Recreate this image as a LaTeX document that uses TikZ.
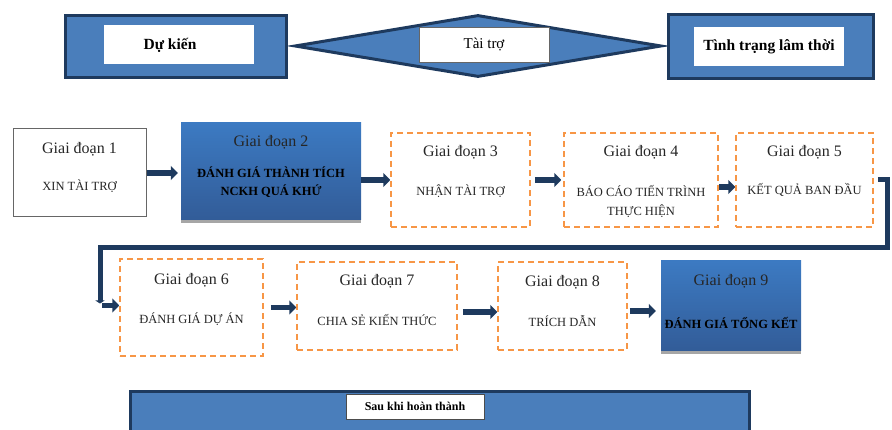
\documentclass[tikz,border=0pt]{standalone}
\usepackage{fontspec}
\setmainfont{Liberation Serif}
\usetikzlibrary{arrows.meta,shapes.geometric,shadows}
\definecolor{boxblue}{RGB}{74,126,187}
\definecolor{navy}{RGB}{30,58,94}
\definecolor{dashorange}{RGB}{247,150,70}
\definecolor{gradtop}{RGB}{60,122,194}
\definecolor{gradmid}{RGB}{47,109,179}
\definecolor{gradbot}{RGB}{50,92,152}

\begin{document}
\begin{tikzpicture}[x=1pt,y=-1pt,
  outerbox/.style={draw=navy, line width=3pt, fill=boxblue, inner sep=0pt},
  innerbox/.style={fill=white, inner sep=0pt, font=\fontsize{15.5}{18}\selectfont\bfseries},
  plainbox/.style={draw=black!60, line width=1pt, fill=white},
  dashbox/.style={draw=dashorange, line width=1.5pt, dash pattern=on 6pt off 4pt},
  gradbox/.style={top color=gradtop, middle color=gradmid, bottom color=gradbot,
    drop shadow={shadow xshift=0pt, shadow yshift=-3pt, fill=black!35, opacity=1}},
  title/.style={font=\fontsize{16}{19}\selectfont, text=black!85, inner sep=0pt},
  sub/.style={font=\fontsize{12.5}{19}\selectfont, text=black!85, align=center, inner sep=0pt},
  subbold/.style={sub, font=\fontsize{12.5}{18}\selectfont\bfseries, text=black},
  flow/.style={draw=navy, line width=5.5pt, -{Triangle[length=7pt,width=14pt]}},
  elbow/.style={draw=navy, line width=5pt, line join=miter, -{Triangle[length=3pt,width=9pt]}}]
  \useasboundingbox (0,0) rectangle (892,430);
  \clip (0,0) rectangle (892,430);

  % top row
  \node[outerbox, minimum width=221, minimum height=62] (plan) at (176,46.5) {};
  \node[innerbox, minimum width=150, minimum height=39] (planbox) at (179,44.5) {};
  \node[innerbox] (plantext) at (170,45) {Dự kiến};
  \node[diamond, draw=navy, line width=3pt, fill=boxblue, inner sep=0pt,
    minimum width=367, minimum height=62] (fund) at (478,46) {};
  \node[innerbox, draw=black!60, line width=0.8pt, font=\fontsize{15}{17}\selectfont,
    minimum width=130, minimum height=35] (fundtext) at (484,44.5) {Tài trợ};
  \node[outerbox, minimum width=205, minimum height=64] (interim) at (771,46.5) {};
  \node[innerbox, minimum width=150, minimum height=39] (interimtext) at (769,46.5) {Tình trạng lâm thời};

  % stages 1-5
  \node[plainbox, minimum width=133, minimum height=88] (g1) at (79.5,173) {};
  \node[title] (t1) at ([yshift=-21pt]g1.north) {Giai đoạn 1};
  \node[sub] (s1) at ([yshift=-58pt]g1.north) {XIN TÀI TRỢ};

  \node[gradbox, minimum width=180, minimum height=97] (g2) at (271,171.5) {};
  \node[title] (t2) at ([yshift=-19pt]g2.north) {Giai đoạn 2};
  \node[subbold] (s2) at ([yshift=-59pt]g2.north) {ĐÁNH GIÁ THÀNH TÍCH\\NCKH QUÁ KHỨ};

  \node[dashbox, minimum width=139, minimum height=94] (g3) at (460.5,180) {};
  \node[title] (t3) at ([yshift=-20pt]g3.north) {Giai đoạn 3};
  \node[sub] (s3) at ([yshift=-59pt]g3.north) {NHẬN TÀI TRỢ};

  \node[dashbox, minimum width=154, minimum height=94] (g4) at (641,180) {};
  \node[title] (t4) at ([yshift=-20pt]g4.north) {Giai đoạn 4};
  \node[sub] (s4) at ([yshift=-69pt]g4.north) {BÁO CÁO TIẾN TRÌNH\\THỰC HIỆN};

  \node[dashbox, minimum width=137, minimum height=94] (g5) at (804.5,180) {};
  \node[title] (t5) at ([yshift=-20pt]g5.north) {Giai đoạn 5};
  \node[sub] (s5) at ([yshift=-58pt]g5.north) {KẾT QUẢ BAN ĐẦU};

  % stages 6-9
  \node[dashbox, minimum width=143, minimum height=97] (g6) at (191.5,307.5) {};
  \node[title] (t6) at ([yshift=-22pt]g6.north) {Giai đoạn 6};
  \node[sub] (s6) at ([yshift=-61pt]g6.north) {ĐÁNH GIÁ DỰ ÁN};

  \node[dashbox, minimum width=160, minimum height=88] (g7) at (377,306) {};
  \node[title] (t7) at ([yshift=-20pt]g7.north) {Giai đoạn 7};
  \node[sub] (s7) at ([yshift=-59pt]g7.north) {CHIA SẺ KIẾN THỨC};

  \node[dashbox, minimum width=129, minimum height=88] (g8) at (562.5,306) {};
  \node[title] (t8) at ([yshift=-21pt]g8.north) {Giai đoạn 8};
  \node[sub] (s8) at ([yshift=-60pt]g8.north) {TRÍCH DẪN};

  \node[gradbox, minimum width=140, minimum height=90] (g9) at (731,306) {};
  \node[title] (t9) at ([yshift=-20pt]g9.north) {Giai đoạn 9};
  \node[subbold] (s9) at ([yshift=-62pt]g9.north) {ĐÁNH GIÁ TỔNG KẾT};

  % bottom bar
  \node[outerbox, minimum width=619, minimum height=48] (after) at (439.5,416) {};
  \node[innerbox, draw=black!70, line width=0.8pt, font=\fontsize{12}{14}\selectfont\bfseries,
    minimum width=138, minimum height=25] (aftertext) at (415,406.5) {Sau khi hoàn thành};

  % arrows
  \draw[flow, shorten >=3pt] (g1.east) -- (g2.west |- g1.east);
  \draw[flow] (g2.east |- g3.west) -- (g3.west);
  \draw[flow, shorten <=4pt, shorten >=2pt] (g3.east) -- (g4.west);
  \draw[flow] ([yshift=-7pt]g4.east) -- ([yshift=-7pt]g5.west);
  \coordinate (loopR) at (887,248);
  \coordinate (loopL) at (100,248);
  \draw[elbow] ([xshift=4pt]g5.east) -| (loopR) -- (loopL) -- ([yshift=4pt]loopL |- g6.west);
  \draw[flow] ([xshift=2pt,yshift=2pt]loopL |- g6.west) -- ([yshift=2pt]g6.west);
  \draw[flow, shorten <=7pt] (g6.east) -- (g7.west |- g6.east);
  \draw[flow, shorten <=5pt] ([yshift=-6pt]g7.east) -- ([yshift=-6pt]g8.west);
  \draw[flow, shorten <=2pt, shorten >=5pt] ([yshift=-5pt]g8.east) -- ([yshift=-5pt]g9.west);
\end{tikzpicture}
\end{document}
